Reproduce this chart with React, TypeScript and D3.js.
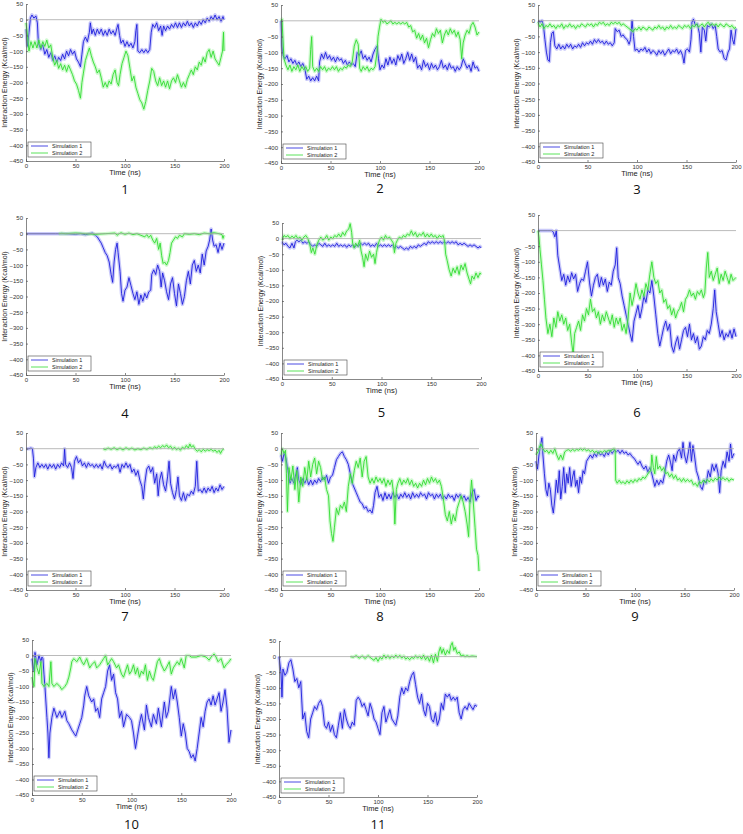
import { useEffect, useRef } from "react";
import * as d3 from "d3";

// tick values and labels
const X_TICKS = [0, 50, 100, 150, 200];
const Y_TICKS = [50, 0, -50, -100, -150, -200, -250, -300, -350, -400, -450];
const SERIES_NAMES = ["Simulation 1", "Simulation 2"];
const PANEL_LABELS = ["1", "2", "3", "4", "5", "6", "7", "8", "9", "10", "11"];

// [time (ns), interaction energy (kcal/mol)]
const p1Sim1 = [[0,-30],[1.5,-85],[3,-40],[4.5,5],[6,15],[8,5],[10,12],[11.5,-10],[12.5,-75],[15,-95],[17,-80],[19,-110],[21,-95],[23,-120],[25,-105],[27,-130],[29,-115],[31,-135],[33,-120],[35,-130],[37,-110],[39,-125],[41,-100],[43,-115],[45,-95],[47,-110],[49,-100],[51,-125],[53,-135],[55,-150],[56.5,-110],[58,-70],[60,-55],[62,-70],[64,-40],[65,-10],[66.5,-45],[68,-30],[70,-50],[72,-30],[74,-45],[76,-30],[78,-50],[80,-35],[82,-50],[84,-30],[86,-45],[88,-35],[90,-50],[92,-25],[93,-15],[94.5,-50],[96,-75],[98,-65],[100,-85],[102,-70],[104,-85],[106,-75],[108,-90],[110,-70],[111,-35],[112,-15],[113,-100],[115,-105],[117,-95],[119,-105],[121,-95],[123,-105],[125,-95],[126.5,-40],[128,-15],[130,-25],[132,-10],[134,-35],[136,-20],[137.5,-50],[139,-20],[141,-35],[143,-20],[145,-30],[147,-15],[149,-25],[151,-10],[153,-25],[155,-10],[157,-25],[159,-10],[161,-20],[163,-5],[165,-20],[167,-10],[169,-25],[171,-10],[173,-20],[175,-5],[177,-15],[179,0],[181,-10],[183,5],[185,-5],[187,10],[189,0],[191,15],[193,0],[195,10],[197,-5],[199,10],[200,0]];
const p1Sim2 = [[0,-10],[1.5,-50],[3,-100],[5,-70],[7,-90],[9,-70],[11,-90],[13,-65],[15,-90],[17,-70],[19,-85],[21,-65],[23,-90],[25,-80],[27,-120],[29,-145],[31,-130],[33,-155],[35,-140],[37,-160],[39,-145],[41,-165],[43,-145],[45,-160],[47,-175],[49,-195],[51,-205],[53,-225],[55,-250],[56.5,-200],[58,-170],[60,-130],[62,-110],[64,-90],[66,-115],[68,-135],[70,-150],[72,-170],[74,-160],[76,-185],[78,-215],[80,-200],[82,-215],[84,-195],[86,-205],[88,-175],[90,-160],[92,-200],[93.5,-210],[95,-175],[97,-140],[99,-120],[101,-100],[103,-115],[105,-155],[107,-195],[109,-180],[111,-215],[113,-235],[115,-255],[117,-265],[119,-285],[121,-260],[123,-225],[125,-195],[127,-155],[129,-165],[131,-195],[133,-210],[135,-185],[137,-210],[139,-195],[141,-215],[143,-195],[145,-220],[147,-195],[149,-185],[151,-200],[153,-175],[155,-195],[157,-215],[159,-200],[161,-215],[163,-190],[165,-175],[167,-160],[169,-175],[171,-150],[173,-160],[175,-135],[177,-145],[179,-120],[181,-135],[183,-105],[185,-95],[187,-120],[189,-100],[191,-125],[193,-135],[195,-145],[197,-120],[198.5,-100],[199.5,-40],[200,-100]];

const p2Sim1 = [[0,0],[1,-80],[2,-110],[4,-120],[6,-110],[8,-130],[10,-120],[12,-135],[14,-125],[16,-140],[18,-130],[20,-145],[22,-135],[24,-150],[26,-185],[28,-175],[30,-190],[32,-180],[34,-190],[36,-175],[38,-190],[39,-130],[41,-105],[43,-120],[45,-100],[47,-120],[49,-110],[51,-125],[53,-115],[55,-130],[57,-115],[59,-125],[61,-120],[63,-135],[65,-125],[67,-140],[69,-130],[71,-140],[73,-135],[75,-145],[77,-100],[79,-110],[81,-95],[83,-120],[85,-110],[87,-125],[89,-115],[91,-130],[93,-105],[95,-90],[97,-80],[98.5,-120],[100,-155],[102,-140],[104,-150],[106,-120],[108,-140],[110,-115],[112,-135],[114,-120],[116,-140],[118,-110],[120,-125],[122,-105],[124,-135],[126,-120],[128,-100],[130,-125],[132,-105],[134,-130],[136,-115],[138,-150],[140,-140],[142,-155],[144,-125],[146,-145],[148,-135],[150,-155],[152,-135],[154,-150],[156,-140],[158,-155],[160,-145],[162,-125],[164,-150],[166,-140],[168,-155],[170,-135],[172,-150],[174,-145],[176,-160],[178,-145],[180,-155],[182,-145],[184,-120],[186,-135],[188,-150],[190,-140],[192,-160],[194,-130],[196,-150],[198,-145],[200,-160]];
const p2Sim2 = [[0,0],[1,5],[2,-60],[3,-120],[5,-140],[7,-155],[9,-140],[11,-160],[13,-145],[15,-155],[17,-140],[19,-160],[21,-145],[23,-155],[25,-145],[27,-160],[29,-150],[30,-90],[31,-50],[32,-145],[34,-160],[36,-150],[38,-160],[40,-145],[42,-155],[44,-145],[46,-160],[48,-150],[50,-155],[52,-145],[54,-155],[56,-145],[58,-160],[60,-150],[62,-155],[64,-145],[66,-150],[68,-140],[70,-145],[72,-130],[74,-80],[76,-60],[78,-75],[79.5,-150],[81,-160],[83,-145],[85,-155],[87,-145],[89,-160],[91,-150],[93,-155],[95,-145],[97,-100],[98,-50],[99.5,-20],[101,5],[103,-5],[105,0],[107,-10],[109,-5],[111,0],[113,-10],[115,-5],[117,-10],[119,-5],[121,-10],[123,-5],[125,-10],[127,-5],[129,-20],[131,-15],[133,-35],[135,-30],[137,-55],[139,-40],[141,-60],[143,-45],[145,-70],[147,-55],[149,-85],[151,-60],[153,-40],[155,-50],[157,-25],[159,-40],[161,-30],[163,-70],[165,-45],[167,-30],[169,-45],[171,-25],[173,-40],[175,-30],[177,-50],[179,-35],[181,-60],[182.5,-120],[184,-70],[186,-45],[188,-30],[190,-40],[192,-15],[194,-5],[196,-20],[198,-45],[200,-35]];

const p3Sim1 = [[0,0],[2,-5],[4,0],[5.5,-15],[7,-60],[8.5,-100],[10,-125],[11.5,-130],[12.5,-70],[14,-40],[15.5,-35],[17,-80],[19,-90],[21,-75],[23,-90],[25,-80],[27,-90],[29,-75],[31,-85],[33,-75],[35,-90],[37,-80],[39,-85],[41,-75],[43,-85],[45,-70],[47,-80],[49,-70],[51,-75],[53,-65],[55,-75],[57,-60],[59,-70],[61,-60],[63,-70],[65,-65],[67,-75],[69,-65],[71,-75],[73,-70],[75,-80],[77,-70],[78,-25],[80,-35],[82,-30],[84,-50],[86,-45],[88,-55],[90,-60],[92,-75],[93.5,-60],[95,0],[96.5,-50],[98,-95],[100,-90],[102,-100],[104,-90],[106,-95],[108,-85],[110,-100],[112,-90],[114,-105],[116,-95],[118,-100],[120,-110],[122,-95],[124,-105],[126,-95],[128,-110],[130,-100],[132,-90],[134,-105],[136,-95],[138,-100],[140,-90],[142,-105],[144,-95],[146,-110],[147.5,-135],[149,-95],[151,-90],[153,-100],[154.5,-60],[155.5,-5],[157,5],[159,-15],[161,-10],[163,-40],[164.5,-100],[166,-20],[168,-30],[169.5,-65],[171,-15],[173,-20],[175,-10],[177,-25],[179,-15],[180.5,-50],[182,-90],[184,-100],[186,-95],[188,-120],[190,-125],[192,-100],[193.5,-90],[195,-30],[196.5,-60],[198,-75],[200,-25]];
const p3Sim2 = [[0,-5],[2,-20],[4,-10],[6,-25],[8,-15],[10,-20],[12,-10],[14,-20],[16,-15],[18,-25],[20,-15],[22,-20],[24,-10],[26,-25],[28,-15],[30,-20],[32,-10],[34,-20],[36,-15],[38,-25],[40,-15],[42,-20],[44,-10],[46,-15],[48,-20],[50,-10],[52,-15],[54,-10],[56,-20],[58,-10],[60,-15],[62,-5],[64,-10],[66,-5],[68,-15],[70,-10],[72,-15],[74,-5],[76,-10],[78,-5],[80,-10],[82,-5],[84,-15],[86,-10],[88,-15],[90,-20],[92,-25],[94,-30],[96,-35],[98,-25],[100,-30],[102,-20],[104,-30],[106,-20],[108,-25],[110,-30],[112,-20],[114,-25],[116,-30],[118,-20],[120,-25],[122,-15],[124,-25],[126,-20],[128,-30],[130,-20],[132,-25],[134,-15],[136,-25],[138,-20],[140,-25],[142,-15],[144,-20],[146,-25],[148,-15],[150,-20],[152,-15],[154,-25],[156,-15],[158,-20],[160,-10],[162,-20],[164,-15],[166,-10],[168,-20],[170,-10],[172,-5],[174,-15],[176,-10],[178,-15],[180,-10],[182,-20],[184,-10],[186,-15],[188,-20],[190,-10],[192,-15],[194,-20],[196,-15],[198,-25],[200,-20]];

const p4Sim1 = [[0,0],[30,0],[40,0],[50,-2],[55,0],[60,-3],[64,0],[67,2],[70,-5],[72,-10],[74,-20],[76,-30],[78,-45],[80,-60],[82,-70],[84,-90],[86,-130],[87.5,-155],[89,-90],[90.5,-50],[92,-30],[93,-60],[95,-120],[96.5,-190],[98,-215],[100,-180],[102,-170],[104,-140],[106,-165],[108,-190],[110,-210],[112,-185],[114,-225],[116,-195],[118,-215],[120,-190],[122,-205],[124,-185],[126,-180],[127,-130],[129,-115],[131,-130],[133,-100],[135,-120],[136.5,-170],[138,-125],[140,-150],[142,-185],[144,-210],[146,-160],[148,-140],[150,-190],[152,-230],[154,-160],[156,-190],[158,-225],[160,-200],[162,-150],[164,-120],[166,-160],[168,-100],[170,-85],[172,-120],[174,-100],[176,-125],[178,-65],[180,-100],[182,-55],[184,-40],[185.5,-20],[187,15],[188.5,-20],[190,-40],[192,-35],[194,-60],[196,-30],[198,-50],[200,-30]];
const p4Sim2 = [[33,0],[36,1],[40,0],[50,2],[60,0],[70,-2],[80,0],[90,2],[92,-5],[94,0],[96,3],[100,-2],[104,2],[108,-3],[112,0],[116,-5],[120,-10],[122,-3],[124,-12],[126,-5],[128,-20],[130,-30],[132,-15],[134,-50],[135.5,-30],[137,-70],[138.5,-95],[140,-90],[142,-100],[144,-85],[145.5,-60],[147,-30],[149,-20],[151,-10],[153,-15],[155,-5],[158,-10],[160,0],[165,-2],[170,0],[175,-3],[180,2],[185,0],[190,3],[195,0],[198,-3],[199,-15],[200,-5]];

const p5Sim1 = [[0,-10],[2,-20],[4,-15],[6,-25],[8,-30],[10,-15],[12,-30],[13.5,-10],[15,-5],[17,-10],[19,-5],[21,-15],[23,-10],[25,-15],[27,-10],[29,-20],[31,-25],[33,-20],[35,-25],[37,-15],[39,-20],[41,-25],[43,-15],[45,-25],[47,-20],[49,-25],[51,-20],[53,-25],[55,-15],[57,-25],[59,-20],[61,-25],[63,-20],[65,-28],[67,-20],[69,-25],[71,-20],[73,-28],[75,-20],[77,-25],[79,-15],[81,-20],[83,-15],[85,-20],[87,-15],[89,-25],[91,-20],[93,-25],[95,-15],[97,-25],[99,-20],[101,-25],[103,-20],[105,-25],[107,-20],[109,-25],[111,-20],[113,-30],[115,-25],[117,-30],[119,-25],[121,-30],[123,-35],[125,-30],[127,-35],[129,-25],[131,-30],[133,-25],[135,-30],[137,-20],[139,-25],[141,-20],[143,-15],[145,-20],[147,-10],[149,-15],[151,-10],[153,-15],[155,-10],[157,-15],[159,-10],[161,-15],[163,-10],[165,-15],[167,-10],[169,-15],[171,-10],[173,-15],[175,-10],[177,-20],[179,-15],[181,-20],[183,-15],[185,-20],[187,-25],[189,-20],[191,-25],[193,-20],[195,-25],[197,-30],[199,-25],[200,-30]];
const p5Sim2 = [[0,-5],[2,10],[4,5],[6,10],[8,0],[10,8],[12,2],[14,10],[16,0],[18,5],[20,-5],[22,5],[24,10],[26,0],[28,-20],[29.5,-45],[31,-30],[33,-50],[35,-20],[37,-5],[39,5],[41,-5],[43,0],[45,10],[47,-5],[49,5],[51,0],[53,10],[55,5],[57,15],[59,5],[61,20],[63,10],[65,25],[67,30],[68.5,48],[70,20],[71,-15],[72.5,-30],[74,-15],[76,-25],[78,-5],[79.5,-40],[81,-60],[82.5,-90],[84,-50],[86,-70],[88,-40],[90,-60],[92,-50],[93.5,-80],[95,-45],[96.5,-20],[98,-5],[100,5],[102,-5],[104,10],[106,0],[108,5],[110,-5],[112,-15],[113,-45],[114.5,-15],[116,-5],[118,5],[120,0],[122,10],[124,5],[126,15],[128,10],[130,25],[132,10],[134,20],[136,5],[138,15],[140,10],[142,20],[144,5],[146,15],[148,5],[150,15],[152,5],[154,10],[156,0],[158,10],[160,5],[162,10],[163.5,-10],[164.5,-50],[166,-70],[168,-100],[170,-120],[172,-95],[174,-110],[176,-90],[178,-115],[180,-85],[182,-100],[184,-80],[186,-110],[188,-130],[189.5,-145],[191,-120],[193,-130],[195,-110],[197,-125],[199,-110],[200,-115]];

const p6Sim1 = [[0,0],[5,0],[10,0],[14,0],[15.5,-5],[17,-20],[18.5,0],[20,-80],[22,-120],[24,-160],[26,-140],[28,-175],[30,-145],[32,-165],[34,-135],[36,-155],[38,-140],[40,-195],[42,-170],[44,-155],[46,-160],[48,-130],[50,-100],[52,-165],[54,-210],[56,-175],[58,-150],[60,-140],[62,-180],[64,-150],[66,-175],[68,-155],[70,-195],[72,-165],[74,-175],[76,-130],[78,-110],[79.5,-55],[81,-150],[83,-170],[85,-210],[87,-240],[89,-270],[91,-300],[93,-330],[95,-355],[97,-290],[99,-265],[101,-240],[103,-280],[105,-250],[107,-210],[109,-230],[111,-190],[113,-200],[115,-160],[117,-210],[119,-270],[121,-330],[123,-370],[125,-340],[127,-310],[129,-290],[131,-320],[133,-300],[135,-370],[137,-390],[139,-360],[141,-340],[143,-380],[145,-350],[147,-320],[149,-310],[151,-340],[153,-300],[155,-350],[157,-330],[159,-360],[161,-340],[163,-380],[165,-370],[167,-340],[169,-350],[171,-320],[173,-330],[175,-300],[177,-250],[178.5,-190],[180,-260],[182,-300],[184,-340],[186,-320],[188,-350],[190,-330],[192,-340],[194,-320],[196,-345],[198,-315],[200,-340]];
const p6Sim2 = [[0,0],[1,-20],[2,-60],[3.5,-110],[5,-160],[6.5,-220],[8,-280],[10,-330],[12,-300],[14,-340],[16,-280],[18,-310],[20,-260],[22,-290],[24,-270],[26,-300],[28,-280],[30,-320],[32,-300],[34,-360],[35.5,-395],[37,-330],[39,-310],[41,-290],[43,-320],[45,-270],[47,-290],[49,-250],[51,-270],[53,-220],[55,-260],[57,-250],[59,-280],[61,-260],[63,-300],[65,-270],[67,-290],[69,-260],[71,-280],[73,-300],[75,-270],[77,-310],[79,-280],[81,-300],[83,-280],[85,-320],[87,-300],[89,-330],[91,-280],[93,-200],[95,-240],[97,-210],[99,-170],[101,-200],[103,-220],[105,-190],[107,-210],[109,-170],[111,-190],[113,-140],[115,-100],[117,-150],[119,-170],[121,-160],[123,-200],[125,-190],[127,-230],[129,-220],[131,-250],[133,-240],[135,-270],[137,-250],[139,-280],[141,-260],[143,-250],[145,-230],[147,-260],[149,-220],[151,-210],[153,-190],[155,-210],[157,-200],[159,-220],[161,-195],[163,-205],[165,-190],[167,-215],[168.5,-200],[170,-120],[171.5,-70],[173,-150],[175,-130],[177,-160],[179,-140],[181,-120],[183,-170],[185,-140],[187,-160],[189,-130],[191,-150],[193,-170],[195,-140],[197,-160],[200,-150]];

const p7Sim1 = [[0,0],[3,0],[5,2],[6.5,0],[7.5,-30],[8.5,-90],[10,-60],[12,-45],[14,-60],[16,-50],[18,-60],[20,-50],[22,-65],[24,-50],[26,-60],[28,-50],[30,-65],[32,-50],[34,-60],[36,-45],[38,-55],[39,0],[40,-50],[42,-60],[44,-45],[46,-60],[47.5,-95],[49,-40],[51,-25],[53,-45],[55,-35],[57,-55],[59,-45],[61,-60],[63,-45],[65,-55],[67,-50],[69,-60],[71,-50],[73,-60],[75,-50],[77,-65],[79,-40],[81,-55],[83,-60],[85,-50],[87,-65],[89,-55],[91,-60],[93,-50],[95,-75],[97,-50],[99,-60],[101,-45],[103,-60],[105,-50],[107,-75],[109,-65],[111,-85],[113,-70],[115,-100],[117,-120],[118.5,-160],[120,-110],[122,-65],[124,-55],[126,-75],[128,-60],[130,-110],[132,-80],[133.5,-150],[135,-100],[137,-75],[139,-115],[141,-135],[143,-90],[144.5,-40],[146,-110],[148,-140],[150,-160],[152,-130],[153.5,-90],[155,-150],[157,-165],[159,-140],[161,-165],[163,-145],[165,-150],[167,-135],[169,-145],[171,-120],[172.5,-40],[174,-135],[176,-130],[178,-140],[180,-125],[182,-140],[184,-125],[186,-135],[188,-120],[190,-140],[192,-125],[194,-135],[196,-115],[198,-130],[200,-120]];
const p7Sim2 = [[78,0],[80,-3],[83,2],[86,-2],[89,3],[92,-3],[95,2],[98,-4],[101,3],[104,-2],[107,2],[110,-4],[113,0],[116,-3],[119,2],[122,-2],[125,3],[128,0],[130,6],[132,2],[134,8],[136,3],[138,10],[140,5],[142,12],[144,3],[146,8],[148,-2],[150,5],[152,-3],[154,2],[156,-5],[158,5],[160,0],[162,10],[164,2],[165.5,15],[167,5],[169,10],[171,-2],[173,-8],[175,-3],[177,-10],[179,-2],[181,-8],[183,-3],[185,-6],[187,-2],[189,-8],[191,-4],[193,-12],[195,-5],[196.5,-15],[198,-5],[200,0]];

const p8Sim1 = [[0,-20],[1.5,-40],[3,-15],[5,-30],[7,-70],[9,-110],[11,-95],[13,-110],[15,-80],[16.5,-60],[18,-100],[20,-115],[22,-95],[24,-110],[26,-95],[28,-115],[30,-100],[32,-115],[34,-100],[36,-110],[38,-95],[40,-105],[42,-90],[44,-100],[46,-85],[48,-110],[50,-90],[52,-85],[54,-60],[56,-35],[58,-25],[60,-15],[62,-10],[64,-25],[66,-35],[68,-50],[70,-80],[72,-110],[74,-125],[76,-140],[78,-155],[80,-170],[82,-175],[84,-190],[86,-185],[88,-200],[90,-195],[92,-205],[93.5,-180],[95,-140],[97,-120],[99,-155],[101,-145],[103,-165],[105,-140],[107,-160],[109,-145],[111,-160],[113,-140],[115,-155],[117,-145],[119,-160],[121,-145],[123,-155],[125,-140],[127,-155],[129,-145],[131,-160],[133,-140],[135,-155],[137,-145],[139,-155],[141,-140],[143,-150],[145,-145],[147,-160],[149,-140],[151,-150],[153,-145],[155,-160],[157,-145],[159,-155],[161,-145],[163,-160],[165,-150],[167,-160],[169,-145],[171,-155],[173,-150],[175,-165],[177,-145],[179,-155],[181,-145],[183,-160],[185,-150],[187,-165],[189,-155],[191,-170],[193,-140],[195,-130],[197,-165],[199,-150],[200,-155]];
const p8Sim2 = [[0,-20],[1.5,0],[3,-15],[4.5,-5],[5.5,-80],[6.5,-200],[8,-60],[10,-100],[12,-55],[14,-130],[16,-70],[18,-170],[20,-90],[22,-120],[24,-60],[26,-100],[28,-40],[30,-90],[32,-50],[34,-30],[36,-80],[38,-40],[40,-60],[42,-100],[44,-90],[46,-130],[48,-150],[49.5,-230],[51,-270],[52.5,-295],[54,-250],[56,-190],[58,-210],[60,-180],[62,-190],[64,-170],[66,-200],[68,-120],[70,-80],[72,-110],[74,-70],[76,-40],[78,-60],[80,-30],[82,-90],[84,-40],[86,-25],[88,-90],[90,-110],[92,-95],[94,-110],[96,-90],[98,-105],[100,-95],[102,-110],[104,-95],[106,-120],[108,-100],[110,-115],[112,-100],[114,-150],[115,-240],[116.5,-130],[118,-110],[120,-95],[122,-115],[124,-100],[126,-110],[128,-95],[130,-115],[132,-100],[134,-120],[136,-110],[138,-125],[140,-110],[142,-120],[144,-100],[146,-115],[148,-95],[150,-110],[152,-90],[154,-105],[156,-95],[158,-110],[160,-100],[162,-120],[164,-160],[166,-210],[168,-230],[170,-200],[172,-240],[174,-210],[176,-230],[178,-190],[180,-170],[182,-150],[184,-170],[186,-200],[188,-240],[189.5,-280],[191,-160],[192.5,-100],[194,-160],[196,-250],[197.5,-320],[199,-340],[200,-390]];

const p9Sim1 = [[0,-40],[1.5,-65],[3,-20],[4.5,10],[6,35],[7,-20],[8.5,-80],[10,-130],[11.5,-150],[13,-110],[14.5,-130],[16,-180],[17.5,-205],[19,-160],[20.5,-100],[22,-140],[23.5,-70],[25,-160],[26.5,-120],[28,-60],[29.5,-140],[31,-80],[32.5,-110],[34,-60],[35.5,-120],[37,-90],[38.5,-70],[40,-120],[41.5,-100],[43,-140],[44.5,-90],[46,-110],[47.5,-70],[49,-80],[51,-40],[53,-30],[55,-20],[57,-30],[59,-15],[61,-25],[63,-10],[65,-20],[67,-15],[69,-25],[71,-10],[73,-20],[75,-5],[77,-15],[79,-5],[81,-10],[83,-5],[85,-15],[87,-5],[89,-15],[91,-10],[93,-20],[95,-15],[97,-25],[99,-30],[101,-40],[103,-50],[105,-40],[107,-55],[109,-65],[111,-55],[113,-75],[115,-60],[117,-80],[118.5,-100],[120,-120],[122,-100],[124,-115],[126,-100],[128,-110],[130,-80],[132,-40],[134,-20],[136,-45],[137.5,-70],[139,-20],[141,-40],[143,-10],[145,0],[147,-30],[148.5,20],[150,-20],[152,-45],[154,-10],[155.5,20],[157,-40],[158.5,10],[160,-20],[162,-70],[164,-90],[166,-120],[168,-130],[170,-100],[172,-110],[174,-70],[176,-90],[178,-50],[180,-70],[182,-50],[184,-80],[185.5,-140],[187,-70],[189,-40],[191,-60],[193,-10],[195,-40],[196.5,15],[198,-30],[200,-15]];
const p9Sim2 = [[0,-20],[2,-10],[3.5,5],[5,15],[7,0],[9,-10],[11,-5],[13,-15],[15,-5],[17,-15],[19,0],[21,-20],[23,-35],[25,-20],[27,-35],[29,-10],[31,-5],[33,-3],[35,-8],[37,-2],[39,-7],[41,-2],[43,-5],[45,0],[47,-5],[49,0],[51,-7],[53,-3],[55,-10],[57,-5],[59,-12],[61,-8],[63,-15],[65,-8],[67,-12],[69,-6],[71,-10],[73,-5],[75,-8],[77,-3],[79,0],[80,-5],[80.5,-100],[82,-110],[84,-100],[86,-110],[88,-105],[90,-112],[92,-102],[94,-110],[96,-100],[98,-108],[100,-98],[102,-105],[104,-95],[106,-100],[108,-90],[110,-95],[112,-85],[114,-75],[116,-70],[117,-20],[118.5,-60],[120,-80],[121.5,-25],[123,-65],[125,-55],[127,-70],[129,-60],[131,-80],[133,-75],[135,-90],[137,-80],[139,-95],[141,-85],[143,-100],[145,-95],[147,-105],[149,-95],[151,-105],[153,-98],[155,-105],[157,-100],[159,-115],[161,-110],[163,-120],[165,-105],[167,-110],[169,-100],[171,-108],[173,-98],[175,-106],[177,-96],[179,-104],[181,-94],[183,-100],[185,-90],[187,-98],[189,-92],[191,-100],[193,-94],[195,-104],[197,-96],[200,-100]];

const p10Sim1 = [[0,-10],[2,-50],[3,10],[5,-30],[7,0],[9,-20],[10,-5],[11,-10],[12,-60],[13,-100],[14,-150],[15,-200],[16,-250],[17,-330],[18,-250],[20,-200],[22,-170],[25,-200],[28,-180],[30,-200],[33,-180],[35,-210],[37,-220],[40,-240],[42,-250],[44,-260],[46,-240],[48,-220],[50,-200],[52,-160],[53,-130],[55,-100],[57,-130],[60,-150],[62,-140],[64,-180],[66,-170],[68,-200],[70,-140],[72,-120],[74,-100],[76,-50],[78,-30],[80,-80],[82,-60],[84,-120],[86,-140],[88,-200],[90,-180],[92,-230],[95,-190],[98,-200],[100,-210],[102,-250],[104,-300],[106,-260],[108,-220],[110,-190],[113,-240],[115,-160],[117,-200],[120,-230],[122,-190],[125,-220],[127,-170],[130,-230],[133,-150],[135,-200],[137,-180],[140,-100],[142,-140],[144,-110],[146,-150],[148,-200],[150,-260],[152,-220],[154,-250],[156,-300],[158,-310],[160,-330],[162,-320],[164,-340],[166,-300],[168,-250],[170,-200],[172,-230],[174,-180],[176,-150],[178,-140],[180,-160],[182,-130],[184,-160],[186,-140],[188,-120],[190,-180],[192,-150],[194,-110],[196,-170],[198,-280],[200,-240]];
const p10Sim2 = [[0,-70],[2,-100],[3,-10],[5,-40],[7,-60],[9,-20],[10,-90],[12,-100],[15,-90],[17,-100],[19,-20],[20,-90],[22,-100],[25,-90],[28,-100],[30,-110],[33,-100],[35,-90],[37,-70],[39,-40],[40,-20],[42,-10],[45,-20],[48,-5],[50,-20],[52,-30],[55,-10],[58,-40],[60,-30],[63,-20],[65,-40],[68,-30],[70,-20],[72,-10],[74,0],[76,-30],[78,-20],[80,-10],[82,-20],[85,-40],[87,-30],[90,-60],[92,-70],[94,-50],[96,-30],[98,-60],[100,-50],[102,-30],[104,-60],[106,-40],[108,-70],[110,-50],[112,-60],[114,-30],[116,-80],[118,-50],[120,-70],[122,-80],[124,-50],[126,-20],[128,-10],[130,-30],[133,-50],[135,-40],[138,-20],[140,-60],[142,-40],[144,-30],[146,-20],[148,-30],[150,-10],[153,-40],[155,0],[158,0],[160,-5],[165,-5],[170,0],[175,-5],[178,-15],[180,-5],[183,5],[185,-5],[187,-20],[190,-10],[193,-40],[195,-30],[198,-20],[200,-10]];

const p11Sim1 = [[0,0],[2,-50],[3,-130],[4,-40],[6,-60],[8,-50],[10,-20],[12,-10],[14,-40],[16,-80],[18,-70],[20,-100],[22,-80],[24,-200],[26,-180],[28,-240],[30,-260],[32,-200],[34,-180],[36,-160],[38,-170],[40,-150],[42,-140],[44,-160],[46,-220],[48,-230],[50,-210],[52,-240],[54,-220],[56,-250],[58,-260],[60,-220],[62,-180],[64,-230],[66,-170],[68,-200],[70,-220],[72,-230],[74,-210],[76,-220],[78,-140],[80,-130],[82,-140],[84,-160],[86,-150],[88,-170],[90,-190],[92,-150],[94,-170],[96,-200],[98,-210],[100,-230],[102,-250],[104,-180],[106,-160],[108,-210],[110,-190],[112,-170],[114,-200],[116,-210],[118,-220],[120,-190],[122,-130],[124,-100],[126,-120],[128,-100],[130,-110],[132,-80],[134,-60],[136,-50],[138,-90],[140,-130],[142,-150],[144,-120],[146,-170],[148,-190],[150,-150],[152,-160],[154,-200],[156,-210],[158,-180],[160,-220],[162,-200],[164,-150],[166,-170],[168,-120],[170,-130],[172,-120],[174,-140],[176,-130],[178,-140],[180,-130],[182,-180],[184,-200],[186,-170],[188,-160],[190,-170],[192,-150],[194,-160],[196,-170],[198,-155],[200,-160]];
const p11Sim2 = [[72,0],[75,-2],[78,3],[81,-5],[84,2],[87,-6],[90,3],[93,-5],[96,-12],[98,-3],[100,-15],[102,-2],[104,-8],[106,5],[108,-5],[110,3],[112,-6],[114,2],[116,-4],[118,5],[120,-3],[122,4],[124,-5],[126,2],[128,-8],[130,-3],[132,-10],[134,-2],[136,-6],[138,3],[140,-5],[142,2],[144,-8],[146,5],[148,-10],[150,0],[152,-15],[154,5],[156,-20],[158,8],[160,-15],[161.5,15],[163,30],[164.5,10],[166,25],[168,5],[170,20],[172,10],[173.5,35],[175,45],[176.5,20],[178,30],[180,10],[182,15],[184,2],[186,5],[188,0],[190,3],[192,0],[195,2],[200,0]];

const SIM1 = [p1Sim1, p2Sim1, p3Sim1, p4Sim1, p5Sim1, p6Sim1, p7Sim1, p8Sim1, p9Sim1, p10Sim1, p11Sim1];
const SIM2 = [p1Sim2, p2Sim2, p3Sim2, p4Sim2, p5Sim2, p6Sim2, p7Sim2, p8Sim2, p9Sim2, p10Sim2, p11Sim2];

// plot area of each panel in page pixels, and the baseline of its number label
const FRAMES = [
  { x0: 26, x1: 224, y0: 4, y1: 161, ny: 194 },
  { x0: 281, x1: 479, y0: 5, y1: 163, ny: 193 },
  { x0: 538, x1: 736, y0: 5, y1: 162, ny: 194 },
  { x0: 26, x1: 224, y0: 218, y1: 375, ny: 418 },
  { x0: 282, x1: 481, y0: 223, y1: 379, ny: 417 },
  { x0: 538, x1: 736, y0: 215, y1: 371, ny: 417 },
  { x0: 26, x1: 224, y0: 433, y1: 590, ny: 621 },
  { x0: 281, x1: 479, y0: 433, y1: 590, ny: 621 },
  { x0: 536, x1: 734, y0: 433, y1: 590, ny: 621 },
  { x0: 32, x1: 231, y0: 640, y1: 795, ny: 829 },
  { x0: 279, x1: 477, y0: 641, y1: 797, ny: 829 },
];

const COLORS = [
  { band: "#8080f0", line: "#1c1cdc" },
  { band: "#8cf08c", line: "#30dc30" },
];
const FONT = "'Liberation Sans', Arial, sans-serif";

export default function App() {
  const ref = useRef<SVGSVGElement | null>(null);

  useEffect(() => {
    const svg = d3.select(ref.current);
    svg.selectAll("*").remove();

    FRAMES.forEach((f, i) => {
      const x = d3.scaleLinear().domain([0, 200]).range([f.x0, f.x1]);
      const y = d3.scaleLinear().domain([-450, 50]).range([f.y1, f.y0]);
      const g = svg.append("g");

      const line = d3
        .line<number[]>()
        .x((d) => x(d[0]))
        .y((d) => y(d[1]));

      [SIM1[i], SIM2[i]].forEach((data, s) => {
        // light noisy band behind a thin core line
        g.append("path")
          .attr("d", line(data))
          .attr("fill", "none")
          .attr("stroke", COLORS[s].band)
          .attr("stroke-width", 3.6)
          .attr("stroke-opacity", 0.42)
          .attr("stroke-linejoin", "round");
        g.append("path")
          .attr("d", line(data))
          .attr("fill", "none")
          .attr("stroke", COLORS[s].line)
          .attr("stroke-width", 0.9)
          .attr("stroke-linejoin", "round");
      });

      // zero reference line
      g.append("line")
        .attr("x1", x(0))
        .attr("x2", x(200))
        .attr("y1", y(0))
        .attr("y2", y(0))
        .attr("stroke", "#a8a8a8")
        .attr("stroke-width", 0.8);

      // axes
      const yAxis = g
        .append("g")
        .attr("transform", `translate(${f.x0},0)`)
        .call(d3.axisLeft(y).tickValues(Y_TICKS).tickSizeInner(-2).tickSizeOuter(0).tickPadding(3));
      const xAxis = g
        .append("g")
        .attr("transform", `translate(0,${f.y1})`)
        .call(d3.axisBottom(x).tickValues(X_TICKS).tickSizeInner(-2).tickSizeOuter(0).tickPadding(3));
      [yAxis, xAxis].forEach((a) => {
        a.selectAll("path, line").attr("stroke", "#555").attr("stroke-width", 0.7);
        a.selectAll("text").attr("fill", "#333").style("font-size", "6px").style("font-family", FONT);
      });

      const midX = (f.x0 + f.x1) / 2;
      const midY = (f.y0 + f.y1) / 2;

      g.append("text")
        .attr("x", midX)
        .attr("y", f.y1 + 14)
        .attr("text-anchor", "middle")
        .style("font-size", "7.5px")
        .style("font-family", FONT)
        .attr("fill", "#222")
        .text("Time (ns)");

      g.append("text")
        .attr("transform", `translate(${f.x0 - 19},${midY}) rotate(-90)`)
        .attr("text-anchor", "middle")
        .style("font-size", "7px")
        .style("font-family", FONT)
        .attr("fill", "#222")
        .text("Interaction Energy (Kcal/mol)");

      // legend
      const lx = f.x0 + 2;
      const ly = f.y1 - 19;
      const leg = g.append("g").attr("transform", `translate(${lx},${ly})`);
      leg.append("rect")
        .attr("width", 63)
        .attr("height", 15)
        .attr("fill", "#fff")
        .attr("stroke", "#444")
        .attr("stroke-width", 0.6);
      SERIES_NAMES.forEach((name, s) => {
        const yy = 4 + s * 7;
        leg.append("line")
          .attr("x1", 3)
          .attr("x2", 20)
          .attr("y1", yy)
          .attr("y2", yy)
          .attr("stroke", COLORS[s].line)
          .attr("stroke-width", 0.8);
        leg.append("text")
          .attr("x", 24)
          .attr("y", yy)
          .attr("dy", "0.35em")
          .style("font-size", "5.5px")
          .style("font-family", FONT)
          .attr("fill", "#222")
          .text(name);
      });

      // panel number
      svg.append("text")
        .attr("x", midX)
        .attr("y", f.ny)
        .attr("text-anchor", "middle")
        .style("font-size", "13px")
        .style("font-family", "'Open Sans', 'Noto Sans', sans-serif")
        .attr("fill", "#111")
        .text(PANEL_LABELS[i]);
    });
  }, []);

  return (
    <svg
      ref={ref}
      width={743}
      height={834}
      style={{ position: "absolute", left: 0, top: 0, background: "#fff" }}
    />
  );
}
